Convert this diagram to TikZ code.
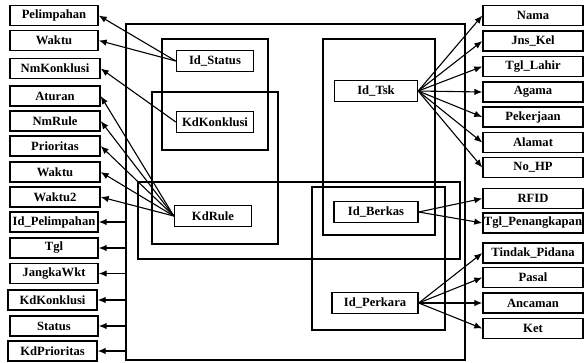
\documentclass[tikz,border=0pt]{standalone}
\usepackage{fontspec}
\setmainfont{Liberation Serif}
\usetikzlibrary{arrows.meta}
\tikzset{
  attr/.style={draw,line width=1.4pt,minimum width=88pt,minimum height=20pt,inner sep=0pt,font=\fontsize{12.6}{14}\selectfont\bfseries},
  key/.style={draw,fill=white,line width=1.4pt,minimum width=77pt,minimum height=21pt,inner sep=0pt,font=\fontsize{12.6}{14}\selectfont\bfseries},
  frame/.style={draw,line width=1.4pt,inner sep=0pt},
  arr/.style={-{Latex[length=8pt,width=6.5pt]},line width=1.1pt}
}
\begin{document}
\begin{tikzpicture}[x=1pt,y=-1pt]
\useasboundingbox (0,0) rectangle (584,362);
% frames
\node[frame,minimum width=339pt,minimum height=336pt] (outer) at (295.5,192) {};
\node[frame,minimum width=106pt,minimum height=111pt] (fstatus) at (215,94.5) {};
\node[frame,minimum width=126pt,minimum height=152pt] (frule) at (215,168) {};
\node[frame,minimum width=322pt,minimum height=77pt] (fberkas) at (299,220.5) {};
\node[frame,minimum width=112pt,minimum height=196pt] (ftsk) at (379,137) {};
\node[frame,minimum width=133pt,minimum height=143pt] (fperkara) at (378.5,258.5) {};
% keys
\node[key] (idstatus) at (215,61) {Id\_Status};
\node[key] (kdkonk) at (215,122) {KdKonklusi};
\node[key] (kdrule) at (213,216) {KdRule};
\node[key,minimum width=83pt] (idtsk) at (376,91) {Id\_Tsk};
\node[key,minimum width=84pt] (idberkas) at (376,212) {Id\_Berkas};
\node[key,minimum width=86pt] (idperkara) at (375,303) {Id\_Perkara};
% left attributes
\node[attr] (pel) at (54,15.5) {Pelimpahan};
\node[attr] (wkt) at (54,40.5) {Waktu};
\node[attr,minimum width=90pt] (nmk) at (55,68.5) {NmKonklusi};
\node[attr,minimum width=90pt] (atu) at (55,96) {Aturan};
\node[attr,minimum width=90pt] (nmr) at (55,121) {NmRule};
\node[attr,minimum width=90pt] (pri) at (55,146) {Prioritas};
\node[attr,minimum width=90pt] (wkt2) at (55,172) {Waktu};
\node[attr,minimum width=90pt] (wktdua) at (55,197) {Waktu2};
\node[attr] (idpel) at (54,222) {Id\_Pelimpahan};
\node[attr] (tgl) at (54,248) {Tgl};
\node[attr] (jgk) at (54,273.5) {JangkaWkt};
\node[attr,minimum width=89pt] (kdk) at (52.5,300) {KdKonklusi};
\node[attr] (sts) at (54,326) {Status};
\node[attr,minimum width=89pt] (kdp) at (52.5,351) {KdPrioritas};
% right attributes
\node[attr,minimum width=100pt] (nama) at (533,15.5) {Nama};
\node[attr,minimum width=100pt] (jk) at (533,41) {Jns\_Kel};
\node[attr,minimum width=100pt] (tgll) at (533,66.5) {Tgl\_Lahir};
\node[attr,minimum width=100pt] (agm) at (533,92) {Agama};
\node[attr,minimum width=100pt] (pkj) at (533,117) {Pekerjaan};
\node[attr,minimum width=100pt] (alm) at (533,142.5) {Alamat};
\node[attr,minimum width=100pt] (hp) at (533,167.5) {No\_HP};
\node[attr,minimum width=100pt] (rfid) at (533,198.5) {RFID};
\node[attr,minimum width=100pt] (tglp) at (533,223) {Tgl\_Penangkapan};
\node[attr,minimum width=100pt] (tdk) at (533,253) {Tindak\_Pidana};
\node[attr,minimum width=100pt] (psl) at (533,277.5) {Pasal};
\node[attr,minimum width=100pt] (anc) at (533,303) {Ancaman};
\node[attr,minimum width=100pt] (ket) at (533,328.5) {Ket};
% arrows
\foreach \t in {pel,wkt} \draw[arr] (idstatus.west) -- (\t.east);
\draw[arr] (kdkonk.west) -- (nmk.east);
\foreach \t in {atu,nmr,pri,wkt2,wktdua} \draw[arr] (kdrule.west) -- (\t.east);
\foreach \t in {idpel,tgl,jgk,kdk,sts,kdp} \draw[arr] (outer.west |- \t) -- (\t.east);
\foreach \t in {nama,jk,tgll,agm,pkj,alm,hp} \draw[arr] (idtsk.east) -- (\t.west);
\foreach \t in {rfid,tglp} \draw[arr] (idberkas.east) -- (\t.west);
\foreach \t in {tdk,psl,anc,ket} \draw[arr] (idperkara.east) -- (\t.west);
\end{tikzpicture}
\end{document}
